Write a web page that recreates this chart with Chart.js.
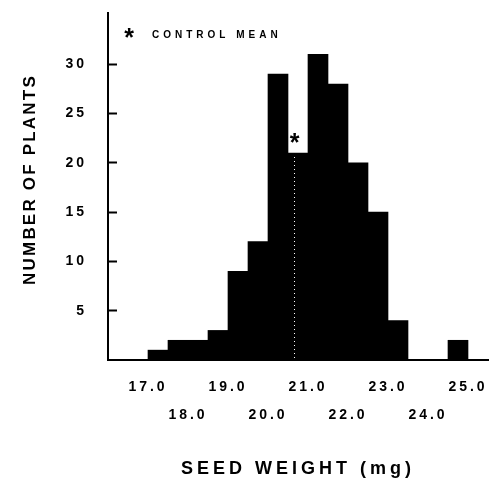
<!DOCTYPE html>
<html>
<head>
<meta charset="utf-8">
<script src="https://cdn.jsdelivr.net/npm/chart.js@4"></script>
<style>
  html, body { margin: 0; padding: 0; background: #fff; }
</style>
</head>
<body>
<canvas id="seedChart" width="491" height="478"></canvas>
<script>
// histogram bins, 0.5 mg wide (centres)
const binCenters = [17.25, 17.75, 18.25, 18.75, 19.25, 19.75, 20.25, 20.75,
                    21.25, 21.75, 22.25, 22.75, 23.25, 23.75, 24.25, 24.75];
const plantCounts = [1, 2, 2, 3, 9, 12, 29, 21, 31, 28, 20, 15, 4, 0, 0, 2];

const weightTicks = [17, 18, 19, 20, 21, 22, 23, 24, 25];
const countTicks = [5, 10, 15, 20, 25, 30];

const controlMean = 20.65;
const controlLabel = "CONTROL MEAN";

Chart.defaults.font.family = "'Liberation Sans', Arial, sans-serif";
Chart.defaults.font.weight = "bold";
Chart.defaults.color = "#000";

/* letter spacing for the text; titles get their own spacing */
const titleSpacing = { x: ["4px", 0], y: ["2.2px", -7] };

const spacing = {
  id: "spacing",
  afterLayout(chart) {
    Object.keys(titleSpacing).forEach(id => {
      const s = chart.scales[id];
      if (s._spaced) return;
      const drawTitle = s.drawTitle;
      const [ls, dy] = titleSpacing[id];
      s.drawTitle = function (area) {
        this.ctx.save();
        this.ctx.letterSpacing = ls;
        this.ctx.translate(0, dy);
        drawTitle.call(this, area);
        this.ctx.restore();
      };
      s._spaced = true;
    });
  },
  beforeDraw(chart) {
    chart.ctx.letterSpacing = "3px";
  }
};

/* control mean: dotted line, asterisk, and key */
const meanMark = {
  id: "meanMark",
  afterDatasetsDraw(chart) {
    const { ctx, scales: { x, y }, chartArea } = chart;
    const px = Math.round(x.getPixelForValue(controlMean)) + 0.5;
    const barTop = y.getPixelForValue(plantCounts[binCenters.indexOf(20.75)]);

    ctx.save();
    ctx.strokeStyle = "#fff";
    ctx.lineWidth = 1;
    ctx.setLineDash([1, 3]);
    ctx.beginPath();
    ctx.moveTo(px, chartArea.bottom - 2);
    ctx.lineTo(px, barTop + 2);
    ctx.stroke();
    ctx.setLineDash([]);

    ctx.fillStyle = "#000";
    ctx.letterSpacing = "0px";
    ctx.textAlign = "center";
    ctx.textBaseline = "alphabetic";
    ctx.font = "bold 25px 'Liberation Sans', Arial, sans-serif";
    ctx.fillText("*", px, barTop - 1.5);

    // key in the top left corner
    ctx.fillText("*", chartArea.left + 21, chartArea.top + 33);
    ctx.letterSpacing = "4px";
    ctx.textAlign = "left";
    ctx.textBaseline = "middle";
    ctx.font = "bold 10px 'Liberation Sans', Arial, sans-serif";
    ctx.fillText(controlLabel, chartArea.left + 44, chartArea.top + 22);
    ctx.restore();
    ctx.letterSpacing = "3px";
  }
};

const ctx = document.getElementById("seedChart").getContext("2d");

new Chart(ctx, {
  type: "bar",
  data: {
    labels: binCenters,
    datasets: [{
      data: binCenters.map((c, i) => ({ x: c, y: plantCounts[i] })),
      backgroundColor: "#000",
      borderWidth: 0,
      barPercentage: 1,
      categoryPercentage: 1
    }]
  },
  options: {
    responsive: false,
    animation: false,
    layout: { padding: { top: 13, right: 3, left: 0, bottom: 0 } },
    plugins: {
      legend: { display: false },
      tooltip: { enabled: false }
    },
    scales: {
      x: {
        type: "linear",
        min: 16,
        max: 25.5,
        offset: false,
        afterFit: s => { s.height = 118; s.paddingLeft = 0; s.paddingRight = 0; },
        afterBuildTicks: s => { s.ticks = weightTicks.map(v => ({ value: v })); },
        grid: { drawOnChartArea: false, drawTicks: false },
        border: { color: "#000", width: 2 },
        ticks: {
          font: { size: 14, lineHeight: 2 },
          padding: 13,
          maxRotation: 0,
          autoSkip: false,
          callback: (v, i) => i % 2 === 0 ? [v.toFixed(1)] : ["", v.toFixed(1)]
        },
        title: {
          display: true,
          text: "SEED WEIGHT (mg)",
          font: { size: 18, lineHeight: 1 },
          padding: { top: 0, bottom: 0 }
        }
      },
      y: {
        min: 0,
        max: 35.2,
        afterFit: s => { s.width = 108; s.paddingTop = 0; s.paddingBottom = 0; },
        afterBuildTicks: s => { s.ticks = countTicks.map(v => ({ value: v })); },
        grid: {
          drawOnChartArea: false,
          drawTicks: true,
          tickLength: -9,
          tickWidth: 2,
          tickColor: "#000"
        },
        border: { color: "#000", width: 2 },
        ticks: {
          font: { size: 14 },
          padding: 30
        },
        title: {
          display: true,
          text: "NUMBER OF PLANTS",
          font: { size: 17, lineHeight: 1 },
          padding: { top: 22, bottom: 0 }
        }
      }
    }
  },
  plugins: [spacing, meanMark]
});
</script>
</body>
</html>
